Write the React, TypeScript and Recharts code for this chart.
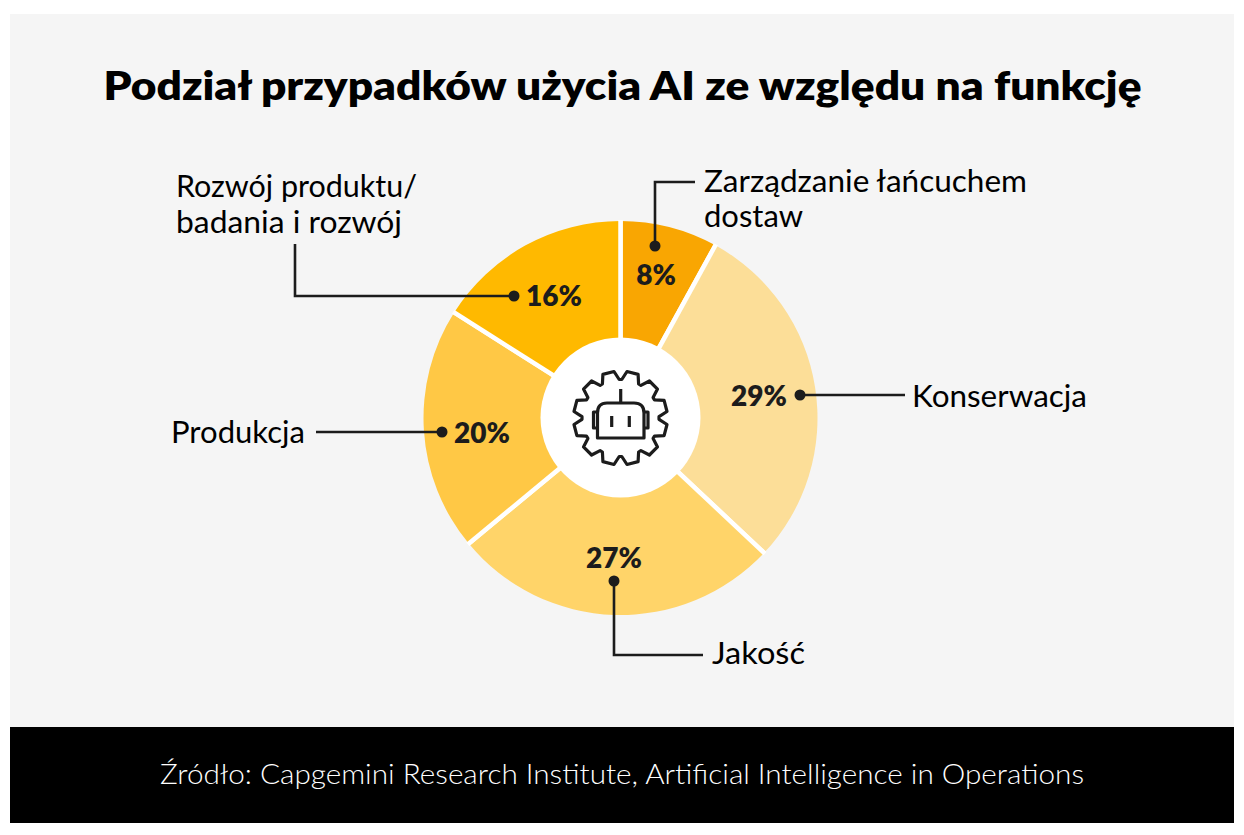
import React from "react";
import { PieChart, Pie, Cell, Sector } from "recharts";

const categories = ["Zarządzanie łańcuchem dostaw", "Konserwacja", "Jakość", "Produkcja", "Rozwój produktu/ badania i rozwój"];
const shares = [8, 29, 27, 20, 16];
const colors = ["#F9A602", "#FCDE98", "#FFD469", "#FFC845", "#FFB900"];
const rows = categories.map((name, i) => ({ name, value: shares[i] }));

const titleText = "Podział przypadków użycia AI ze względu na funkcję";
const sourceText = "Źródło: Capgemini Research Institute, Artificial Intelligence in Operations";

const FONT = "Lato, 'Noto Sans', sans-serif";
const CX = 620.5;
const CY = 418;
const RO = 197;
const RI = 78;
const INK = "#1c1c1c";

const pctPos = [[656, 285], [759, 406], [614, 568], [482, 443], [554, 306]];
const leaders = [
  "M655 246 V182 H695",
  "M800 395 H905",
  "M614 581 V655 H703",
  "M442 432 H316",
  "M514 296 H295 V244",
];
const dots = [[655, 246], [800, 395], [614, 581], [442, 432], [514, 296]];
const labels: [string, number, number, number][] = [
  ["Zarządzanie łańcuchem", 704, 192, 323],
  ["dostaw", 704, 227, 99],
  ["Konserwacja", 912, 407, 175],
  ["Jakość", 712, 664, 93],
  ["Produkcja", 171, 443, 134],
  ["Rozwój produktu/", 176, 197, 241],
  ["badania i rozwój", 176, 233, 226],
];

function gearPath(cx: number, cy: number) {
  const pts: string[] = [];
  const polar = (r: number, deg: number) => {
    const a = (deg * Math.PI) / 180;
    return `${(cx + r * Math.sin(a)).toFixed(1)} ${(cy - r * Math.cos(a)).toFixed(1)}`;
  };
  for (let i = 0; i < 12; i++) {
    const c = 15 + i * 30;
    pts.push(polar(38.5, c - 13), polar(47, c - 7), polar(47, c + 7), polar(38.5, c + 13));
  }
  return "M" + pts.join(" L") + " Z";
}

const SliceShape = (props: any) => {
  const { cx, cy, innerRadius, outerRadius, startAngle, endAngle, fill } = props;
  const edge = (deg: number) => {
    const a = (-deg * Math.PI) / 180;
    return (
      <line
        x1={cx + innerRadius * Math.cos(a)}
        y1={cy + innerRadius * Math.sin(a)}
        x2={cx + (outerRadius + 1) * Math.cos(a)}
        y2={cy + (outerRadius + 1) * Math.sin(a)}
        stroke="#ffffff"
        strokeWidth={4.5}
      />
    );
  };
  return (
    <g>
      <Sector cx={cx} cy={cy} innerRadius={innerRadius} outerRadius={outerRadius} startAngle={startAngle} endAngle={endAngle} fill={fill} stroke="none" />
      {edge(startAngle)}
      {edge(endAngle)}
    </g>
  );
};

const PctLabel = (props: any) => {
  const { index, value } = props;
  const [x, y] = pctPos[index];
  return (
    <text x={x} y={y} textAnchor="middle" fontFamily={FONT} fontWeight={800} fontSize={28} fill={INK}>
      {value}%
    </text>
  );
};

export default function App() {
  return (
    <div style={{ position: "absolute", left: 0, top: 0, width: 1244, height: 835, background: "#fff" }}>
      <div style={{ position: "absolute", left: 10, top: 14, width: 1224, height: 713, background: "#F5F5F5" }} />
      <div style={{ position: "absolute", left: 10, top: 727, width: 1224, height: 96, background: "#000" }} />
      <div style={{ position: "absolute", left: 0, top: 0 }}>
        <PieChart width={1244} height={835} margin={{ top: 0, right: 0, bottom: 0, left: 0 }}>
          <Pie
            data={rows}
            dataKey="value"
            nameKey="name"
            cx={CX}
            cy={CY}
            innerRadius={RI}
            outerRadius={RO}
            startAngle={90}
            endAngle={-270}
            paddingAngle={0}
            stroke="none"
            isAnimationActive={false}
            shape={SliceShape}
            label={PctLabel}
            labelLine={false}
          >
            {rows.map((r, i) => (
              <Cell key={r.name} fill={colors[i]} />
            ))}
          </Pie>
        </PieChart>
      </div>
      <svg width={1244} height={835} style={{ position: "absolute", left: 0, top: 0, pointerEvents: "none" }}>
        <circle cx={620.5} cy={417.5} r={80} fill="#fff" />
        <text x={622.5} y={100} textAnchor="middle" fontFamily={FONT} fontWeight={800} fontSize={40} fill="#000" textLength={1038} lengthAdjust="spacingAndGlyphs">
          {titleText}
        </text>
        <text x={622} y={784} textAnchor="middle" fontFamily={FONT} fontWeight={300} fontSize={28} fill="#fff" textLength={924} lengthAdjust="spacingAndGlyphs">
          {sourceText}
        </text>
        {leaders.map((d) => (
          <path key={d} d={d} fill="none" stroke={INK} strokeWidth={2.6} />
        ))}
        {dots.map(([x, y]) => (
          <circle key={x} cx={x} cy={y} r={5.5} fill={INK} />
        ))}
        {labels.map(([t, x, y, w]) => (
          <text key={t} x={x} y={y} fontFamily={FONT} fontSize={30} fill="#000" textLength={w} lengthAdjust="spacingAndGlyphs">
            {t}
          </text>
        ))}
        <g fill="none" stroke={INK} strokeWidth={3.2} strokeLinejoin="round">
          <path d={gearPath(620.5, 418)} />
          <path d="M597.5 438 V413 Q597.5 403 607 403 H634 Q644 403 644 413 V438 Z" />
          <path d="M597.5 412 H593.5 V428 H597.5 M644 412 H648 V428 H644" />
          <path d="M620.7 389 V403 M611.7 416 V427 M629.3 416 V427" />
        </g>
      </svg>
    </div>
  );
}
